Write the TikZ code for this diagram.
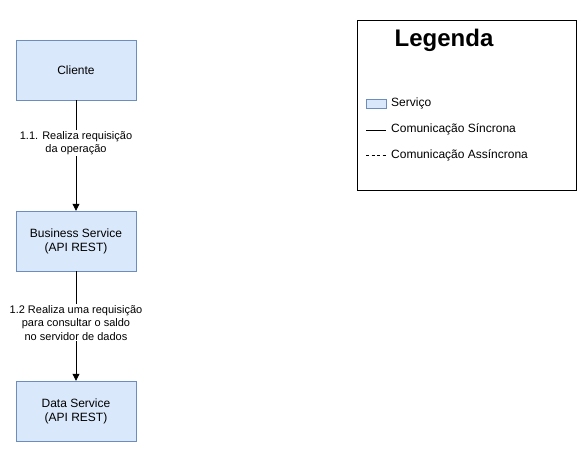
\documentclass[tikz,border=0pt]{standalone}
\usepackage{fontspec}
\setmainfont{Liberation Sans}
\usetikzlibrary{arrows.meta}
\definecolor{svcfill}{HTML}{DAE8FC}
\definecolor{svcline}{HTML}{6C8EBF}
\begin{document}
\begin{tikzpicture}[x=1pt,y=-1pt,
  svc/.style={draw=svcline,fill=svcfill,minimum width=120pt,minimum height=60pt,inner sep=0pt,align=center,font=\fontsize{12}{14}\selectfont},
  conn/.style={draw=black,line width=0.8pt,-{Triangle[length=7pt,width=7pt]}},
  elabel/.style={fill=white,inner sep=1pt,align=center,font=\fontsize{11}{13.5}\selectfont},
  legtext/.style={anchor=west,inner sep=0pt,font=\fontsize{12}{14}\selectfont}]
\useasboundingbox (0,0) rectangle (587,452);
\node[svc] (cli) at (76,70) {Cliente};
\node[svc] (bus) at (76,241) {Business Service\\(API REST)};
\node[svc] (dat) at (76,411) {Data Service\\(API REST)};
\draw[conn] (cli) -- node[elabel,pos=0.39] {1.1. Realiza requisição\\da operação} (bus);
\draw[conn] (bus) -- node[elabel,pos=0.47] {1.2 Realiza uma requisição\\para consultar o saldo\\no servidor de dados} (dat);
% legend
\node[draw=black,line width=0.8pt,minimum width=219pt,minimum height=170pt,inner sep=0pt] (leg) at (466.5,105) {};
\node[font=\fontsize{24}{28}\selectfont\bfseries,inner sep=0pt] (legt) at (444,40) {Legenda};
\node[draw=svcline,fill=svcfill,minimum width=20pt,minimum height=9pt,inner sep=0pt] (legsvc) at (376,103.5) {};
\node[legtext] (legsvct) at (391,103) {Serviço};
\coordinate (s1) at (366,130);
\coordinate (s2) at (386,130);
\draw[line width=0.8pt] (s1) -- (s2);
\node[legtext] (legsynt) at (391,129) {Comunicação Síncrona};
\coordinate (a1) at (366,155);
\coordinate (a2) at (386,155);
\draw[line width=0.8pt,dash pattern=on 3pt off 2.5pt] (a1) -- (a2);
\node[legtext] (legasyt) at (391,155) {Comunicação Assíncrona};
\end{tikzpicture}
\end{document}
